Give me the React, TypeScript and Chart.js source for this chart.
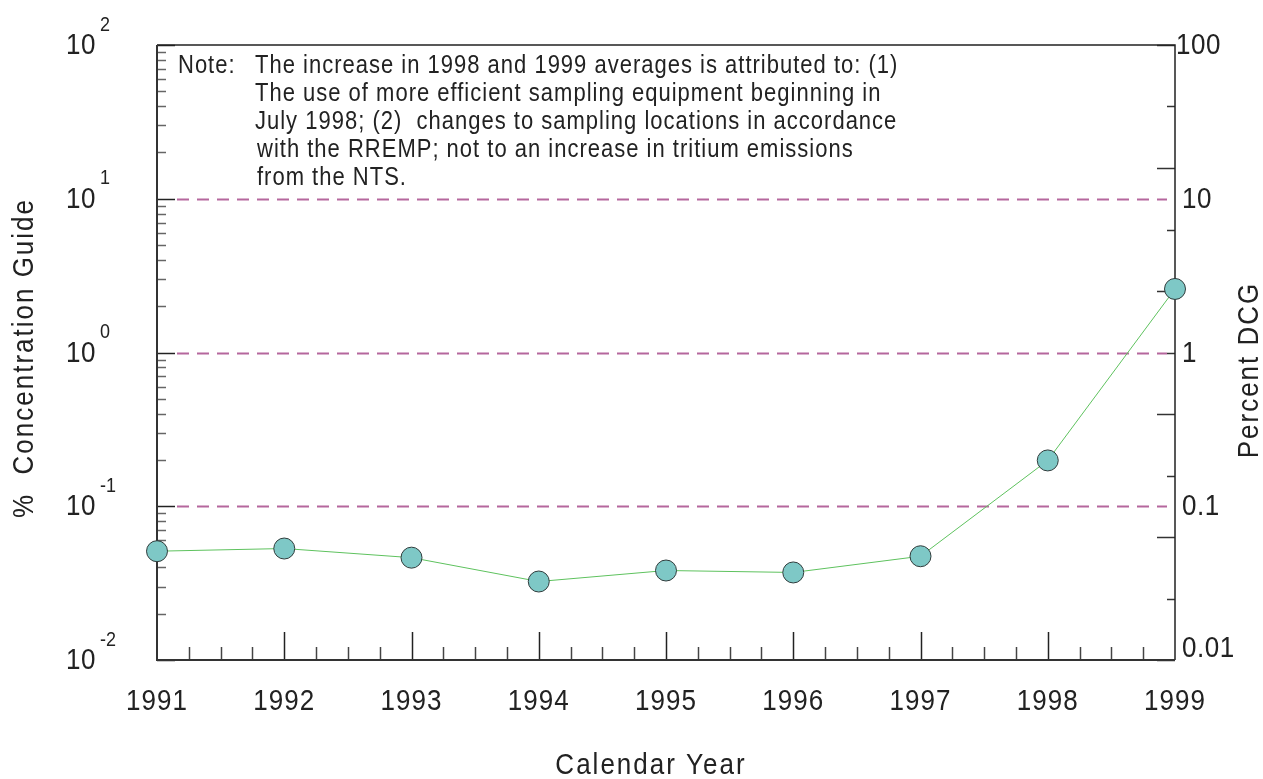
import React, { useEffect, useRef } from "react";
import { Chart, registerables } from "chart.js";

Chart.register(...registerables);

const years = [1991, 1992, 1993, 1994, 1995, 1996, 1997, 1998, 1999];
const percentDCG = [0.051, 0.0531, 0.0463, 0.0324, 0.0382, 0.0371, 0.0473, 0.1986, 2.59];
const leftDecadeExponents = [-2, -1, 0, 1, 2];
const rightLabels = ["0.01", "0.1", "1", "10", "100"];
const rightTickExponents = [-2, -1.6, -1.2, -0.8, -0.4, 0, 0.4, 0.8, 1.2, 1.6, 2];
const guideLevels = [0.1, 1, 10];
const noteLead = "Note:";
const noteLines = [
  "The increase in 1998 and 1999 averages is attributed to: (1)",
  "The use of more efficient sampling equipment beginning in",
  "July 1998; (2)  changes to sampling locations in accordance",
  "with the RREMP; not to an increase in tritium emissions",
  "from the NTS.",
];
const xTitle = "Calendar Year";
const yLeftTitle = "%  Concentration Guide";
const yRightTitle = "Percent DCG";

const FONT = "'Liberation Sans', Arial, sans-serif";
const INK = "#222";
const STRETCH = 1.13;

function txt(
  ctx: CanvasRenderingContext2D,
  s: string,
  x: number,
  y: number,
  size: number,
  align: CanvasTextAlign,
  ls = "0px",
  rot = 0
) {
  ctx.save();
  ctx.font = `${size}px ${FONT}`;
  (ctx as any).letterSpacing = ls;
  ctx.textAlign = align;
  ctx.textBaseline = "middle";
  ctx.fillStyle = INK;
  ctx.translate(x, y);
  if (rot) ctx.rotate(rot);
  ctx.scale(1, STRETCH);
  ctx.fillText(s, 0, 0);
  ctx.restore();
}

const framePlugin = {
  id: "framePlugin",
  beforeDatasetsDraw(chart: any) {
    const ctx: CanvasRenderingContext2D = chart.ctx;
    const { left, right, top, bottom } = chart.chartArea;
    const xs = chart.scales.x;
    const ys = chart.scales.y;
    ctx.save();
    // dashed guide lines
    ctx.strokeStyle = "#b5679d";
    ctx.lineWidth = 2;
    ctx.setLineDash([12, 8]);
    guideLevels.forEach((v) => {
      const y = Math.round(ys.getPixelForValue(v)) + 0.5;
      ctx.beginPath();
      ctx.moveTo(left + 20, y);
      ctx.lineTo(right - 8, y);
      ctx.stroke();
    });
    ctx.setLineDash([]);

    // left minor ticks
    ctx.lineWidth = 1.5;
    for (let e = -2; e < 2; e++) {
      for (let m = 2; m <= 9; m++) {
        const y = Math.round(ys.getPixelForValue(m * Math.pow(10, e))) + 0.5;
        ctx.strokeStyle = "#666";
        ctx.beginPath();
        ctx.moveTo(left, y);
        ctx.lineTo(left + 9, y);
        ctx.stroke();
      }
    }
    leftDecadeExponents.forEach((e) => {
      const y = Math.round(ys.getPixelForValue(Math.pow(10, e))) + 0.5;
      ctx.strokeStyle = "#222";
      ctx.beginPath();
      ctx.moveTo(left, y);
      ctx.lineTo(left + 18, y);
      ctx.stroke();
    });
    // right ticks
    rightTickExponents.forEach((e) => {
      const y = Math.round(ys.getPixelForValue(Math.pow(10, e))) + 0.5;
      const k = Math.round(e / 0.4);
      const len = Math.abs(k) % 2 === 1 ? 18 : 8;
      ctx.strokeStyle = "#333";
      ctx.beginPath();
      ctx.moveTo(right, y);
      ctx.lineTo(right - len, y);
      ctx.stroke();
    });
    // bottom ticks
    for (let i = 0; i < years.length - 1; i++) {
      for (let q = 0; q < 4; q++) {
        if (i === 0 && q === 0) continue;
        const x = Math.round(xs.getPixelForValue(years[i] + q / 4)) + 0.5;
        const len = q === 0 ? 28 : 13;
        ctx.strokeStyle = q === 0 ? "#222" : "#444";
        ctx.beginPath();
        ctx.moveTo(x, bottom);
        ctx.lineTo(x, bottom - len);
        ctx.stroke();
      }
    }

    // frame
    ctx.strokeStyle = "#222";
    ctx.lineWidth = 1.5;
    ctx.beginPath();
    ctx.moveTo(left, top);
    ctx.lineTo(right, top);
    ctx.lineTo(right, bottom);
    ctx.stroke();
    ctx.lineWidth = 2;
    ctx.strokeStyle = "#333";
    ctx.beginPath();
    ctx.moveTo(left, top);
    ctx.lineTo(left, bottom);
    ctx.lineTo(right, bottom);
    ctx.stroke();
    ctx.restore();

    // left labels 10^n
    leftDecadeExponents.forEach((e) => {
      const y = ys.getPixelForValue(Math.pow(10, e));
      txt(ctx, "10", 96, y + 1, 26, "right", "0.5px");
      txt(ctx, String(e), 100, y - 20, 18, "left", "0px");
    });
    // right labels
    rightLabels.forEach((s, i) => {
      const y = ys.getPixelForValue(Math.pow(10, leftDecadeExponents[i]));
      txt(ctx, s, right + (i === 4 ? 1 : 7), y + (i === 0 ? -11 : 1), 26, "left", "0.5px");
    });
    // x labels
    years.forEach((yr) => {
      const x = xs.getPixelForValue(yr);
      txt(ctx, String(yr), x, bottom + 42, 26, "center", "1px");
    });
    // titles
    txt(ctx, xTitle, (left + right) / 2 - 15, 766, 26, "center", "2px");
    txt(ctx, yLeftTitle, 25, 358, 26, "center", "2px", -Math.PI / 2);
    txt(ctx, yRightTitle, 1250, 370, 26, "center", "2px", -Math.PI / 2);

    // note
    txt(ctx, noteLead, 178, 66, 22, "left", "1px");
    noteLines.forEach((s, i) => {
      txt(ctx, s, i >= 3 ? 257 : 255, 66 + i * 28, 22, "left", "1px");
    });
  },
};

export default function App() {
  const ref = useRef<HTMLCanvasElement | null>(null);
  useEffect(() => {
    if (!ref.current) return;
    const chart = new Chart(ref.current, {
      type: "line",
      data: {
        datasets: [
          {
            data: years.map((y, i) => ({ x: y, y: percentDCG[i] })),
            borderColor: "#5ec25e",
            borderWidth: 1,
            pointRadius: 10.5,
            pointBackgroundColor: "#7ec8c6",
            pointBorderColor: "#2f3b3b",
            pointBorderWidth: 1,
            tension: 0,
            clip: false as any,
          },
        ],
      },
      options: {
        animation: false,
        responsive: false,
        maintainAspectRatio: false,
        layout: { padding: { left: 157, right: 88, top: 45, bottom: 119 } },
        plugins: { legend: { display: false }, tooltip: { enabled: false } },
        events: [],
        scales: {
          x: { type: "linear", min: 1991, max: 1999, display: false },
          y: { type: "logarithmic", min: 0.01, max: 100, display: false },
        },
      },
      plugins: [framePlugin],
    });
    return () => chart.destroy();
  }, []);
  return (
    <div style={{ position: "fixed", left: 0, top: 0, width: 1263, height: 779, background: "#fff" }}>
      <canvas ref={ref} width={1263} height={779} style={{ width: 1263, height: 779, display: "block" }} />
    </div>
  );
}
